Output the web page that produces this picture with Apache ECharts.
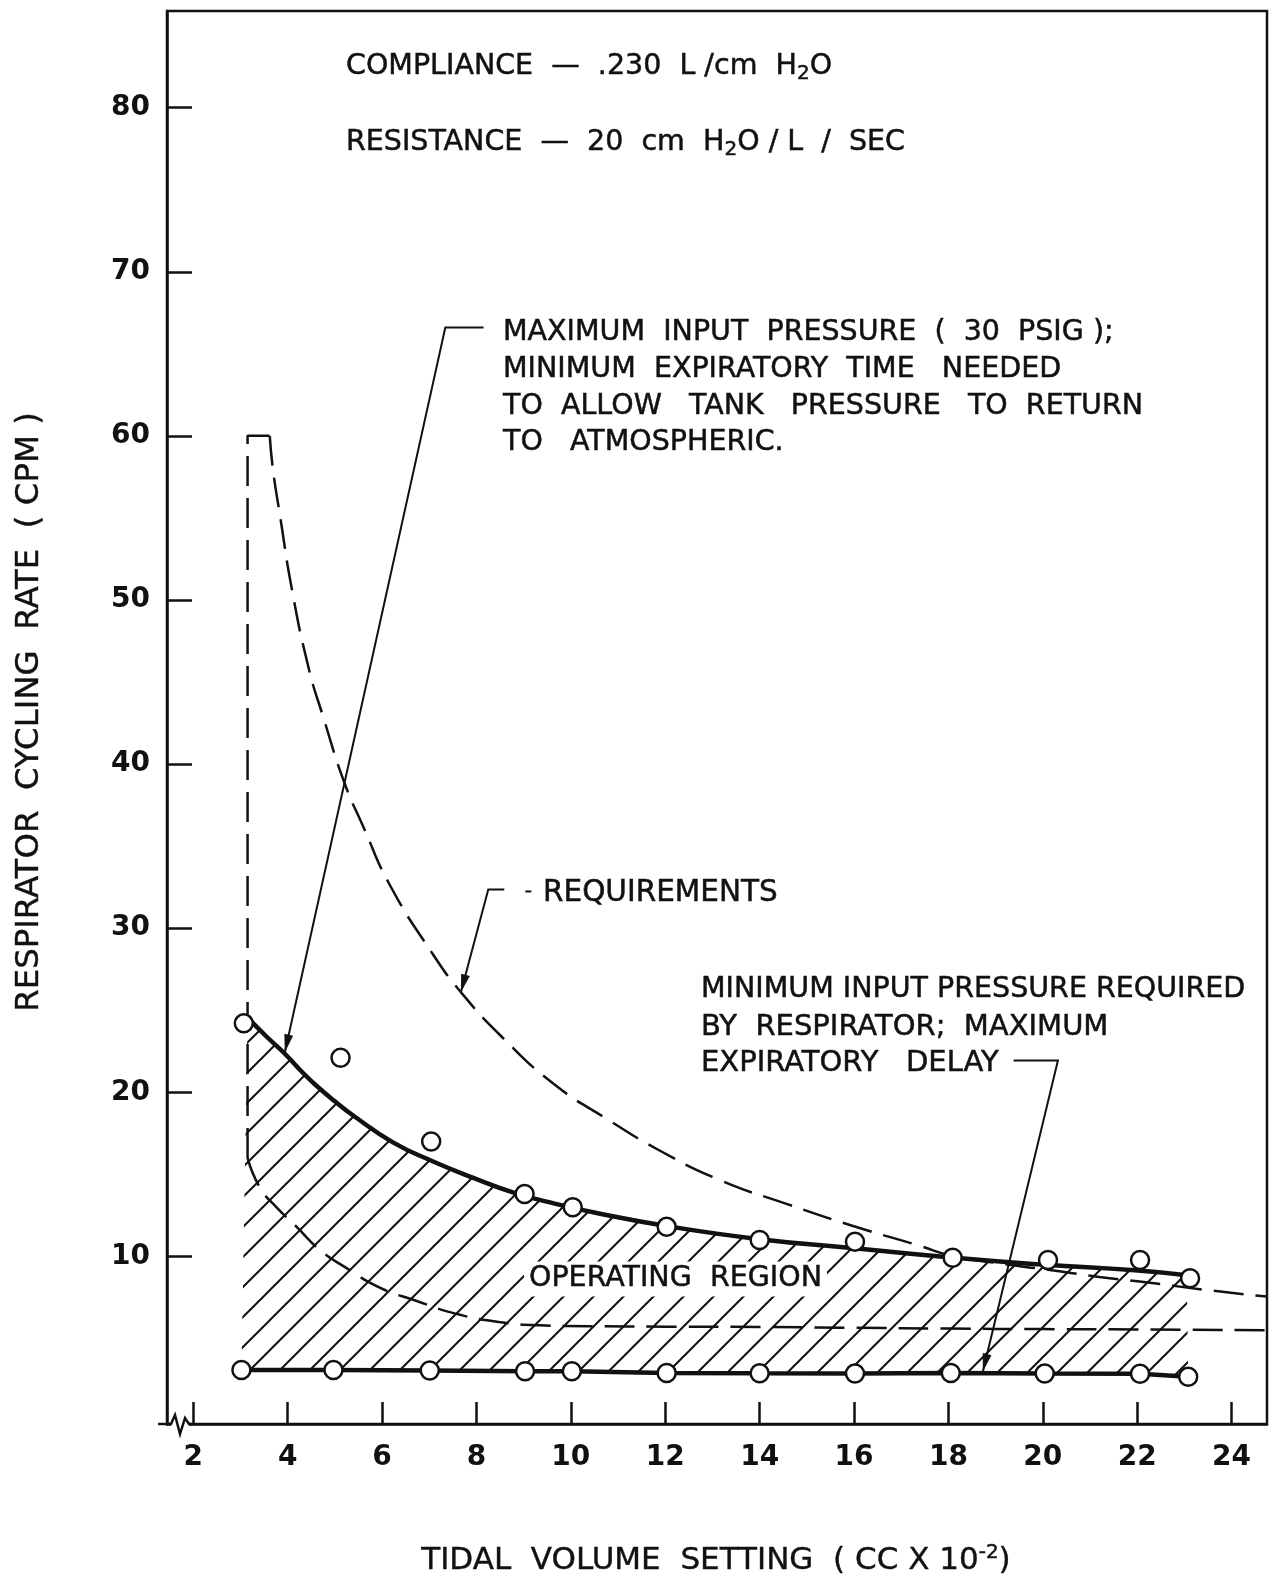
<!DOCTYPE html>
<html><head><meta charset="utf-8">
<script src="https://cdn.jsdelivr.net/npm/echarts@6/dist/echarts.min.js"></script>
<style>html,body{margin:0;padding:0;background:#fff}#c{width:1271px;height:1579px}</style>
</head><body><div id="c"></div>
<script>
// ---- tick labels ----
const xTicks = [2, 4, 6, 8, 10, 12, 14, 16, 18, 20, 22, 24];
const yTicks = [10, 20, 30, 40, 50, 60, 70, 80];

// ---- maximum input pressure curve (solid) ----
const maxCurveX = [3.15, 3.55, 3.94, 4.3, 4.61, 5.0, 5.38, 6.23, 7.07, 7.92, 8.77, 9.68, 10.62, 12.03, 14.0, 16.0, 18.0, 20.0, 21.95, 23.05];
const maxCurveY = [24.55, 23.4, 22.35, 21.25, 20.4, 19.45, 18.6, 16.95, 15.8, 14.8, 13.9, 13.2, 12.6, 11.85, 11.05, 10.5, 9.95, 9.5, 9.15, 8.85];
// measured points on it (open circles)
const maxPointsX = [3.07, 5.12, 7.04, 9.02, 10.04, 12.03, 14.0, 16.02, 18.09, 20.11, 22.06, 23.12];
const maxPointsY = [24.2, 22.1, 17.0, 13.8, 13.0, 11.8, 11.0, 10.9, 9.92, 9.78, 9.78, 8.67];

// ---- minimum input pressure line (solid) ----
const minPointsX = [3.02, 4.97, 7.01, 9.03, 10.02, 12.03, 14.0, 16.02, 18.05, 20.04, 22.06, 23.08];
const minPointsY = [3.08, 3.08, 3.05, 3.0, 3.0, 2.9, 2.88, 2.87, 2.9, 2.87, 2.85, 2.67];

// ---- requirements envelope (dashed) ----
const reqUpperX = [3.62, 3.69, 3.84, 4.08, 4.44, 4.75, 5.21, 5.6, 6.17, 7.08, 7.67, 8.53, 9.64, 10.75, 11.85, 13.16, 14.57, 15.98, 17.39, 18.05, 19.0, 20.15, 21.2, 22.27, 23.33, 24.75];
const reqUpperY = [60, 57.9, 55.1, 50.8, 45.9, 42.9, 38.8, 36.2, 32.6, 28.4, 26.1, 23.4, 20.5, 18.4, 16.5, 14.65, 13.2, 11.85, 10.65, 10.05, 9.6, 9.17, 8.75, 8.4, 8.0, 7.55];
const reqLowerX = [3.15, 3.41, 3.76, 4.19, 4.68, 5.24, 5.95, 6.72, 7.57, 8.48, 9.33, 10.4, 12.0, 14.0, 16.0, 18.0, 20.0, 22.0, 24.75];
const reqLowerY = [16.0, 14.2, 13.0, 11.8, 10.4, 9.3, 8.1, 7.3, 6.5, 6.0, 5.8, 5.75, 5.72, 5.7, 5.65, 5.6, 5.57, 5.55, 5.5];
const reqEdgeX = [3.15, 3.15, 3.62];
const reqEdgeY = [16.0, 60, 60];

// ---- annotation anchors (data coords) ----
const leaderMax = [[8.15, 66.6], [7.34, 66.6], [3.94, 22.44]];
const leaderReq = [[8.59, 32.36], [8.25, 32.36], [7.67, 26.1]];
const leaderMin = [[19.38, 21.94], [20.32, 21.94], [18.73, 2.98]];

const zip = (xs, ys) => xs.map((x, i) => [x, ys[i]]);

const FONT = "'DejaVu Sans', sans-serif";
const TICKFONT = "'DejaVu Sans', sans-serif";

// hatch pattern
const tile = document.createElement('canvas');
tile.width = 30; tile.height = 30;
(function () {
  const g = tile.getContext('2d');
  g.strokeStyle = '#111'; g.lineWidth = 2;
  g.beginPath();
  g.moveTo(-2, 32); g.lineTo(32, -2);
  g.moveTo(-2, 2); g.lineTo(2, -2);
  g.moveTo(28, 32); g.lineTo(32, 28);
  g.stroke();
})();

const chart = echarts.init(document.getElementById('c'), null, { renderer: 'canvas' });

const dashStyle = { color: '#111', width: 2.5, type: [30, 12] };

chart.setOption({
  animation: false,
  backgroundColor: '#fff',
  grid: { left: 167, top: 11, width: 1100, height: 1413, show: true, borderColor: '#111', borderWidth: 2.5, backgroundColor: 'transparent' },
  xAxis: {
    type: 'value', min: 1.443, max: 24.75,
    axisLine: { show: true, onZero: false, lineStyle: { color: '#111', width: 2.5 } },
    axisTick: { show: true, inside: true, length: 22, customValues: xTicks, lineStyle: { color: '#111', width: 2.5 } },
    axisLabel: { customValues: xTicks, margin: 20, fontSize: 28, fontWeight: 'bold', color: '#111', fontFamily: TICKFONT },
    splitLine: { show: false }
  },
  yAxis: {
    type: 'value', min: -0.213, max: 85.89,
    axisLine: { show: true, onZero: false, lineStyle: { color: '#111', width: 2.5 } },
    axisTick: { show: true, inside: true, length: 25, customValues: yTicks, lineStyle: { color: '#111', width: 2.5 } },
    axisLabel: { customValues: yTicks, margin: 17, fontSize: 28, fontWeight: 'bold', color: '#111', fontFamily: TICKFONT },
    splitLine: { show: false }
  },
  series: [
    {
      type: 'custom', name: 'operating region', z: 1, silent: true,
      data: [[maxCurveX[0], maxCurveY[0]]],
      renderItem: function (params, api) {
        const pts = [];
        for (let i = 0; i < maxCurveX.length; i++) pts.push(api.coord([maxCurveX[i], maxCurveY[i]]));
        for (let i = minPointsX.length - 1; i >= 0; i--) pts.push(api.coord([minPointsX[i], minPointsY[i]]));
        return { type: 'polygon', shape: { points: pts }, style: { fill: { image: tile, repeat: 'repeat' }, stroke: null } };
      }
    },
    { type: 'line', name: 'req lower', data: zip(reqLowerX, reqLowerY), smooth: 0.5, showSymbol: false, lineStyle: dashStyle, z: 3 },
    { type: 'line', name: 'req edge', data: zip(reqEdgeX, reqEdgeY), smooth: false, showSymbol: false, lineStyle: dashStyle, z: 3 },
    { type: 'line', name: 'requirements', data: zip(reqUpperX, reqUpperY), smooth: 0.5, showSymbol: false, lineStyle: dashStyle, z: 3 },
    { type: 'line', name: 'max input', data: zip(maxCurveX, maxCurveY), smooth: 0.5, showSymbol: false, lineStyle: { color: '#111', width: 4.5 }, z: 4 },
    { type: 'line', name: 'min input', data: zip(minPointsX, minPointsY), smooth: false, showSymbol: false, lineStyle: { color: '#111', width: 4.5 }, z: 4 },
    { type: 'scatter', name: 'max pts', data: zip(maxPointsX, maxPointsY), symbol: 'circle', symbolSize: 18, itemStyle: { color: '#fff', borderColor: '#111', borderWidth: 2.5, opacity: 1 }, z: 6 },
    { type: 'scatter', name: 'min pts', data: zip(minPointsX, minPointsY), symbol: 'circle', symbolSize: 18, itemStyle: { color: '#fff', borderColor: '#111', borderWidth: 2.5, opacity: 1 }, z: 6 }
  ]
});

// ---- annotations ----
const px = p => chart.convertToPixel({ gridIndex: 0 }, p);
function leader(list) {
  const pts = list.map(px);
  const els = [{ type: 'polyline', shape: { points: pts }, style: { stroke: '#111', lineWidth: 2, fill: null }, z: 20 }];
  const P = pts[pts.length - 1], Q = pts[pts.length - 2];
  const dx = P[0] - Q[0], dy = P[1] - Q[1], L = Math.hypot(dx, dy);
  const ux = dx / L, uy = dy / L, len = 18, w = 4.5;
  const bx = P[0] - ux * len, by = P[1] - uy * len;
  els.push({ type: 'polygon', shape: { points: [P, [bx - uy * w, by + ux * w], [bx + uy * w, by - ux * w]] }, style: { fill: '#111' }, z: 20 });
  return els;
}
function txt(text, x, y, size, extra) {
  return {
    type: 'text', x: x, y: y, z: 30,
    style: Object.assign({ text: text, fontSize: size, fontFamily: FONT, fill: '#111', stroke: '#111', lineWidth: 0.5, align: 'left', verticalAlign: 'middle' }, extra || {})
  };
}
const subRich = { sub: { fontSize: 20, fontFamily: FONT, fill: '#111', stroke: '#111', lineWidth: 0.5, verticalAlign: 'bottom', padding: [14, 0, 0, 0] } };
const supRich = { sup: { fontSize: 20, fontFamily: FONT, fill: '#111', stroke: '#111', lineWidth: 0.5, padding: [0, 0, 16, 0] } };

const graphics = [];
graphics.push(...leader(leaderMax), ...leader(leaderReq), ...leader(leaderMin));
const reqDot = px([8.59, 32.36]);
graphics.push({ type: 'line', shape: { x1: reqDot[0] + 21, y1: reqDot[1] + 2, x2: reqDot[0] + 27, y2: reqDot[1] + 2 }, style: { stroke: '#111', lineWidth: 2 }, z: 20 });

graphics.push(txt('COMPLIANCE  —  .230  L /cm  H{sub|2}O', 346, 67, 28.5, { rich: subRich }));
graphics.push(txt('RESISTANCE  —  20  cm  H{sub|2}O / L  /  SEC', 346, 143, 28.5, { rich: subRich }));
graphics.push(txt('MAXIMUM  INPUT  PRESSURE  (  30  PSIG );', 503, 333, 28.5));
graphics.push(txt('MINIMUM  EXPIRATORY  TIME   NEEDED', 503, 370, 28.5));
graphics.push(txt('TO  ALLOW   TANK   PRESSURE   TO  RETURN', 503, 407, 28.5));
graphics.push(txt('TO   ATMOSPHERIC.', 503, 443, 28.5));
graphics.push(txt('REQUIREMENTS', 543, 893, 29.5));
graphics.push(txt('MINIMUM INPUT PRESSURE REQUIRED', 701, 990, 28.5));
graphics.push(txt('BY  RESPIRATOR;  MAXIMUM', 701, 1027, 29));
graphics.push(txt('EXPIRATORY   DELAY', 701, 1063, 29));
graphics.push(txt('OPERATING  REGION', 524, 1279, 28.5, { backgroundColor: '#fff', padding: [3, 5, 3, 5] }));

// axis titles
graphics.push({ type: 'text', x: 30, y: 712, rotation: Math.PI / 2, z: 30,
  style: { text: 'RESPIRATOR  CYCLING  RATE  ( CPM )', fontSize: 32.4, fontFamily: FONT, fill: '#111', stroke: '#111', lineWidth: 0.4, align: 'center', verticalAlign: 'middle' } });
graphics.push({ type: 'text', x: 716, y: 1561, z: 30,
  style: { text: 'TIDAL  VOLUME  SETTING  ( CC X 10{sup|-2})', rich: supRich, fontSize: 31, fontFamily: FONT, fill: '#111', stroke: '#111', lineWidth: 0.4, align: 'center', verticalAlign: 'middle' } });

// axis break on the lower left
graphics.push({ type: 'rect', shape: { x: 171, y: 1420, width: 18, height: 8 }, style: { fill: '#fff' }, z: 25 });
graphics.push({ type: 'polyline', shape: { points: [[158, 1424], [171, 1424], [175, 1415], [180, 1434], [185, 1418], [189, 1424], [192, 1424]] }, style: { stroke: '#111', lineWidth: 2.5, fill: null }, z: 26 });

chart.setOption({ graphic: graphics });
</script>
</body></html>
